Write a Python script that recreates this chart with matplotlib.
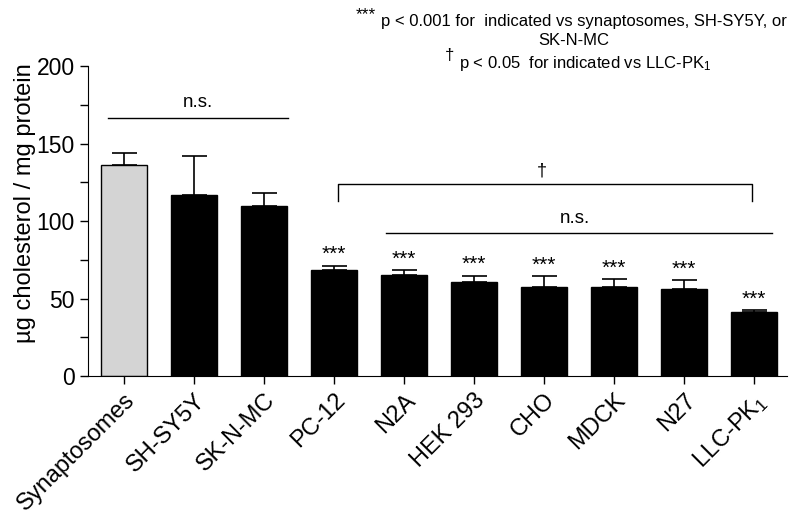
import matplotlib
matplotlib.use("Agg")
import matplotlib.pyplot as plt
import numpy as np

plt.rcParams['font.family'] = ['Liberation Sans', 'DejaVu Sans']
plt.rcParams['mathtext.fontset'] = 'custom'
plt.rcParams['mathtext.rm'] = 'Liberation Sans'
plt.rcParams['mathtext.it'] = 'Liberation Sans'

# data
cells = ['Synaptosomes', 'SH-SY5Y', 'SK-N-MC', 'PC-12', 'N2A', 'HEK 293',
         'CHO', 'MDCK', 'N27', 'LLC-PK$_1$']
means = [136.4, 117, 109.5, 68.5, 65, 61, 57.8, 57.8, 56.5, 41.6]
errs = [7.3, 25.3, 8.5, 2.8, 3.5, 3.8, 6.6, 4.7, 5.5, 1.1]
stars = [False, False, False, True, True, True, True, True, True, True]
colors = ['#d4d4d4'] + ['black'] * 9

fig = plt.figure(figsize=(8, 5.16), dpi=100)
ax = fig.add_axes([0.11, 0.271, 0.874, 0.601])

x = np.arange(len(cells))
ax.bar(x, means, width=0.66, color=colors, edgecolor='black', linewidth=1, zorder=2)
ax.errorbar(x, means, yerr=[np.zeros(len(errs)), errs], fmt='none', ecolor='black',
            elinewidth=1.2, capsize=9, capthick=1.2, zorder=1)

for xi, m, e, s in zip(x, means, errs, stars):
    if s:
        ax.text(xi, m + e + 1.0, '***', ha='center', va='bottom', fontsize=15)

# significance brackets
ax.plot([-0.23, 2.34], [166.5, 166.5], color='black', lw=1)
ax.text(1.05, 171, 'n.s.', ha='center', va='bottom', fontsize=13.5)

ax.plot([3.06, 3.06, 8.97, 8.97], [112.7, 124, 124, 112.7], color='black', lw=1)
ax.text(5.97, 127, '†', ha='center', va='bottom', fontsize=13)

ax.plot([3.74, 9.26], [92.6, 92.6], color='black', lw=1)
ax.text(6.44, 96, 'n.s.', ha='center', va='bottom', fontsize=13.5)

ax.set_xlim(-0.514, 9.47)
ax.set_ylim(0, 200)
ax.set_yticks([0, 50, 100, 150, 200])
ax.set_yticks([25, 75, 125, 175], minor=True)
ax.set_xticks(x)
ax.set_xticklabels(cells, rotation=45, ha='right', rotation_mode='anchor', fontsize=17)
ax.tick_params(axis='y', labelsize=16.5, direction='out', length=6, width=1)
ax.tick_params(axis='y', which='minor', direction='out', length=6, width=1)
ax.tick_params(axis='x', direction='out', length=6, width=1)
ax.set_ylabel('µg cholesterol / mg protein', fontsize=17)
ax.yaxis.set_label_coords(-0.075, 0.558)
for sp in ['top', 'right']:
    ax.spines[sp].set_visible(False)

# footnote block at the top
t1 = fig.text(0.73, 0.949, 'p < 0.001 for  indicated vs synaptosomes, SH-SY5Y, or',
              ha='center', va='baseline', fontsize=12)
fig.text(0.717, 0.913, 'SK-N-MC', ha='center', va='baseline', fontsize=12)
t3 = fig.text(0.731, 0.869, 'p < 0.05  for indicated vs LLC-PK$_1$',
              ha='center', va='baseline', fontsize=12)
rend = fig.canvas.get_renderer()
fig.text(0, 1, '***', fontsize=12.5, ha='right', va='top',
         transform=matplotlib.transforms.offset_copy(
             matplotlib.transforms.BboxTransformTo(t1.get_window_extent(rend)),
             fig=fig, x=-4, y=5, units='points'))
fig.text(0, 1, '†', fontsize=12, ha='right', va='top',
         transform=matplotlib.transforms.offset_copy(
             matplotlib.transforms.BboxTransformTo(t3.get_window_extent(rend)),
             fig=fig, x=-3, y=4, units='points'))

fig.savefig('out.png', dpi=100)
